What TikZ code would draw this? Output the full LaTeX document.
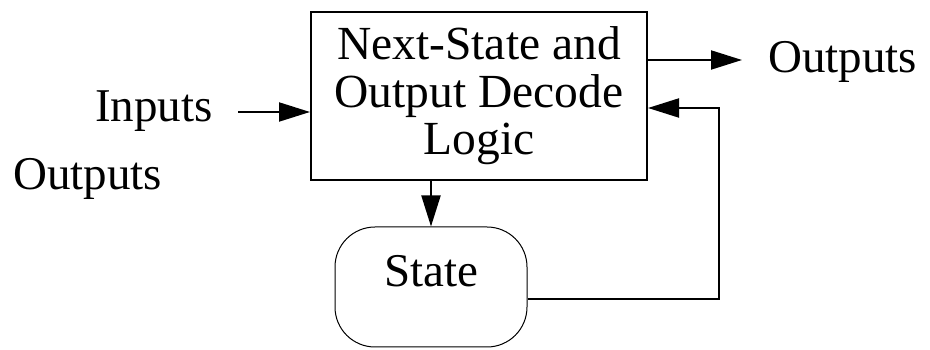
\documentclass[tikz,border=0pt]{standalone}
\usepackage{fontspec}
\setmainfont{Liberation Serif}
\usetikzlibrary{arrows.meta}
\begin{document}
\begin{tikzpicture}[x=1pt,y=1pt,
  lbl/.style={font=\fontsize{47pt}{48pt}\selectfont, inner sep=0pt},
  logicbox/.style={draw, line width=2pt, minimum width=336pt, minimum height=168pt,
    align=center, inner sep=0pt, font=\fontsize{47.5pt}{47.5pt}\selectfont},
  statebox/.style={draw, line width=1pt, rounded corners=40pt, minimum width=192pt,
    minimum height=120pt, inner sep=0pt, text height=20pt, text depth=20pt,
    font=\fontsize{47pt}{48pt}\selectfont},
  wire/.style={line width=2pt},
  arr/.style={wire, -{Triangle[length=31pt,width=19pt]}}
]
\useasboundingbox (0,0) rectangle (930,350);
\node[logicbox] (box) at (479,254) {Next-State and\\Output Decode\\Logic};
\node[statebox] (st) at (431,63) {State};
\node[lbl, anchor=base west] (in) at (95,228) {Inputs};
\node[lbl, anchor=base west] (outL) at (13,160) {Outputs};
\node[lbl, anchor=base west] (outR) at (768,277) {Outputs};
\coordinate (inA) at (238,238);
\coordinate (outA) at (742,290);
\coordinate (fb1) at (719,51);
\coordinate (fb2) at (719,242);
\draw[arr] (inA) -- (inA -| box.west);
\draw[arr] (outA -| box.east) -- (outA);
\draw[arr] (st.north |- box.south) -- (st.north);
\draw[arr] (fb1 -| st.east) -- (fb1) -- (fb2) -- (fb2 -| box.east);
\end{tikzpicture}
\end{document}
